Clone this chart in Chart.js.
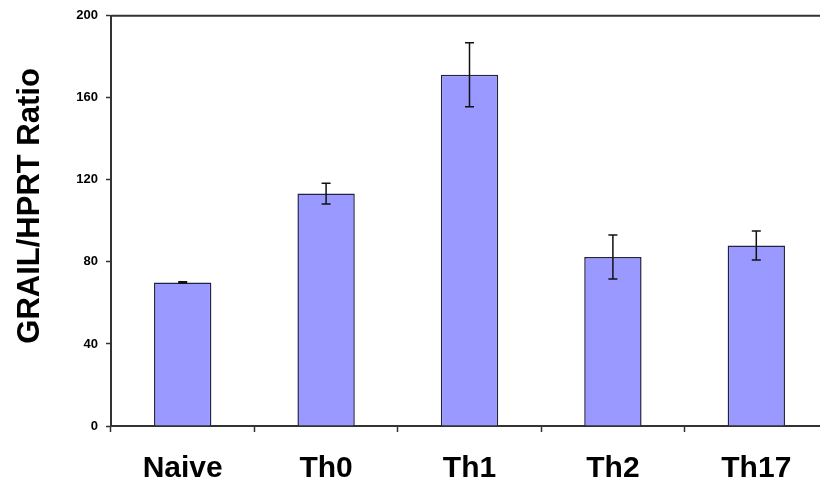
<!DOCTYPE html>
<html>
<head>
<meta charset="utf-8">
<script src="https://cdn.jsdelivr.net/npm/chart.js@4/dist/chart.umd.min.js"></script>
<style>
  html, body { margin: 0; padding: 0; background: #fff; overflow: hidden; }
  #wrap { width: 836px; height: 485px; }
</style>
</head>
<body>
<div id="wrap"><canvas id="grafica" width="836" height="485"></canvas></div>
<script>
// datos
const categorias = ["Naive", "Th0", "Th1", "Th2", "Th17"];
const valores = [70, 113.3, 171.2, 82.4, 88.0];
const errores = [0.3, 5.0, 15.6, 10.7, 7.1];
const ticksY = [0, 40, 80, 120, 160, 200];
const tituloY = "GRAIL/HPRT Ratio";

const fuente = "'Liberation Sans', Arial, Helvetica, sans-serif";

// barras de error, marco superior y titulo del eje Y
const pluginErrores = {
  id: "errores",
  afterDatasetsDraw(chart) {
    const ctx = chart.ctx;
    const meta = chart.getDatasetMeta(0);
    const y = chart.scales.y;
    ctx.save();
    ctx.strokeStyle = "#111";
    ctx.lineWidth = 1.5;
    meta.data.forEach((barra, i) => {
      const x = barra.x;
      const arriba = y.getPixelForValue(valores[i] + errores[i]);
      const abajo = y.getPixelForValue(valores[i] - errores[i]);
      ctx.beginPath();
      ctx.moveTo(x, arriba);
      ctx.lineTo(x, abajo);
      ctx.moveTo(x - 4.5, arriba);
      ctx.lineTo(x + 4.5, arriba);
      ctx.moveTo(x - 4.5, abajo);
      ctx.lineTo(x + 4.5, abajo);
      ctx.stroke();
    });
    const a = chart.chartArea;
    ctx.strokeStyle = "#333";
    ctx.lineWidth = 2;
    ctx.beginPath();
    ctx.moveTo(a.left, a.top);
    ctx.lineTo(a.right, a.top);
    ctx.lineTo(a.right, a.bottom);
    ctx.stroke();

    // titulo vertical, un poco por encima del centro como en el original
    ctx.translate(30, (a.top + a.bottom) / 2 - 15);
    ctx.rotate(-Math.PI / 2);
    ctx.fillStyle = "#000";
    ctx.font = "bold 31px " + fuente;
    ctx.textAlign = "center";
    ctx.textBaseline = "middle";
    ctx.fillText(tituloY, 0, 0);
    ctx.restore();
  }
};

new Chart(document.getElementById("grafica"), {
  type: "bar",
  data: {
    labels: categorias,
    datasets: [{
      data: valores,
      backgroundColor: "#9999FF",
      borderColor: "#222244",
      borderWidth: 1.5,
      barPercentage: 0.4,
      categoryPercentage: 1.0
    }]
  },
  options: {
    responsive: false,
    animation: false,
    layout: { padding: { top: 13, right: 8, left: 0, bottom: 0 } },
    plugins: {
      legend: { display: false },
      tooltip: { enabled: false }
    },
    scales: {
      x: {
        grid: {
          display: true,
          offset: true,
          drawOnChartArea: false,
          tickLength: 6,
          tickColor: "#333",
          tickWidth: 1.5
        },
        border: { color: "#333", width: 2 },
        ticks: {
          color: "#000",
          padding: 19,
          font: { family: fuente, size: 30, weight: "bold" }
        },
        afterFit(s) { s.height = 59; }
      },
      y: {
        min: 0,
        max: 200,
        afterBuildTicks(s) { s.ticks = ticksY.map(v => ({ value: v })); },
        grid: {
          display: true,
          drawOnChartArea: false,
          tickLength: 5,
          tickColor: "#333",
          tickWidth: 1.5
        },
        border: { color: "#333", width: 2 },
        ticks: {
          color: "#000",
          padding: 8,
          font: { family: fuente, size: 13, weight: "bold" }
        },
        afterFit(s) { s.width = 111; }
      }
    }
  },
  plugins: [pluginErrores]
});
</script>
</body>
</html>
